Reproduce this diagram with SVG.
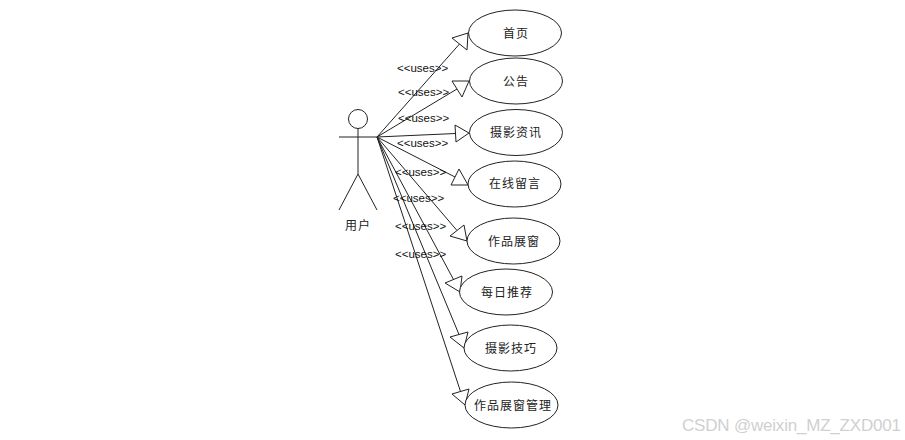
<svg xmlns="http://www.w3.org/2000/svg" width="905" height="440" viewBox="0 0 905 440">
<style>
.s{fill:none;stroke:#222;stroke-width:1}
.e{fill:#fff;stroke:#222;stroke-width:1}
.c{stroke:#222;stroke-width:1;fill:none}
.h{fill:#fff;stroke:#222;stroke-width:1}
.t{font-family:"Noto Sans CJK SC","Liberation Sans",sans-serif;font-size:12px;letter-spacing:1px;text-anchor:middle;fill:#222}
.u{font-family:"Liberation Sans",sans-serif;font-size:11.5px;fill:#111}
.w{font-family:"Liberation Sans",sans-serif;font-size:17px;fill:#d0d0d0}
</style>
<rect width="905" height="440" fill="#fff"/>
<g id="connectors">
<line class="c" x1="377" y1="137" x2="459.500" y2="44"/><polygon class="h" points="468,33 452,38 467,50"/>
<line class="c" x1="377" y1="137" x2="457" y2="89"/><polygon class="h" points="469,81 452,81 462,97"/>
<line class="c" x1="377" y1="137" x2="455.500" y2="133.500"/><polygon class="h" points="469,133 455,125 456,142"/>
<line class="c" x1="377" y1="137" x2="455" y2="177"/><polygon class="h" points="468,185 459,169 451,185"/>
<line class="c" x1="377" y1="137" x2="457" y2="230.500"/><polygon class="h" points="467,241 464,225 450,236"/>
<line class="c" x1="377" y1="137" x2="453.500" y2="279.500"/><polygon class="h" points="460,292 462,276 445,283"/>
<line class="c" x1="377" y1="137" x2="459" y2="334.500"/><polygon class="h" points="464,348 468,332 450,337"/>
<line class="c" x1="377" y1="137" x2="460.500" y2="391.500"/><polygon class="h" points="465,405 469,389 452,394"/>
<text class="u" x="397" y="72">&lt;&lt;uses&gt;&gt;</text>
<text class="u" x="398" y="96">&lt;&lt;uses&gt;&gt;</text>
<text class="u" x="398" y="122">&lt;&lt;uses&gt;&gt;</text>
<text class="u" x="397" y="147">&lt;&lt;uses&gt;&gt;</text>
<text class="u" x="395" y="176">&lt;&lt;uses&gt;&gt;</text>
<text class="u" x="393" y="202">&lt;&lt;uses&gt;&gt;</text>
<text class="u" x="395" y="230">&lt;&lt;uses&gt;&gt;</text>
<text class="u" x="395" y="258">&lt;&lt;uses&gt;&gt;</text>
</g>
<g id="actor">
<circle class="s" cx="358" cy="119" r="9.500"/>
<path class="s" d="M339 137H377M358 128.500V174L339 210M358 174L377 210"/>
<text class="t" x="358" y="230">用户</text>
</g>
<g id="n1"><ellipse class="e" cx="515" cy="33" rx="46.500" ry="23"/><text class="t" x="516" y="38">首页</text></g>
<g id="n2"><ellipse class="e" cx="516" cy="81" rx="46.500" ry="23"/><text class="t" x="516" y="86">公告</text></g>
<g id="n3"><ellipse class="e" cx="516" cy="132.500" rx="46.500" ry="23"/><text class="t" x="516" y="137">摄影资讯</text></g>
<g id="n4"><ellipse class="e" cx="514.500" cy="184" rx="46.500" ry="23"/><text class="t" x="515" y="188">在线留言</text></g>
<g id="n5"><ellipse class="e" cx="513.500" cy="241" rx="46.500" ry="23"/><text class="t" x="514" y="246">作品展窗</text></g>
<g id="n6"><ellipse class="e" cx="506" cy="292" rx="46.500" ry="23"/><text class="t" x="507" y="297">每日推荐</text></g>
<g id="n7"><ellipse class="e" cx="510.500" cy="348" rx="46.500" ry="23"/><text class="t" x="511" y="353">摄影技巧</text></g>
<g id="n8"><ellipse class="e" cx="511.500" cy="405" rx="46.500" ry="23"/><text class="t" x="513" y="410">作品展窗管理</text></g>
<text class="w" x="682" y="431" textLength="219">CSDN @weixin_MZ_ZXD001</text>
</svg>
